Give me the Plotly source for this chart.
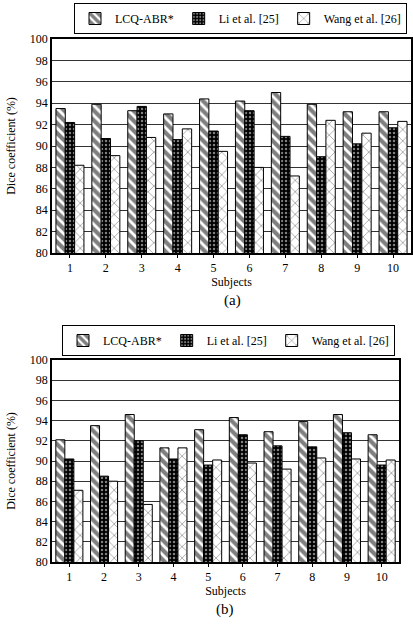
import plotly.graph_objects as go

subjects = ["1", "2", "3", "4", "5", "6", "7", "8", "9", "10"]
series_names = ["LCQ-ABR*", "Li et al. [25]", "Wang et al. [26]"]

# (a)
a_lcq = [93.5, 93.9, 93.3, 93.0, 94.4, 94.2, 95.0, 93.9, 93.2, 93.2]
a_li = [92.2, 90.7, 93.7, 90.6, 91.4, 93.3, 90.9, 89.0, 90.2, 91.7]
a_wang = [88.2, 89.1, 90.8, 91.6, 89.5, 88.0, 87.2, 92.4, 91.2, 92.3]

# (b)
b_lcq = [92.1, 93.5, 94.6, 91.3, 93.1, 94.3, 92.9, 93.9, 94.6, 92.6]
b_li = [90.2, 88.5, 92.0, 90.2, 89.6, 92.6, 91.5, 91.4, 92.8, 89.6]
b_wang = [87.1, 88.0, 85.7, 91.3, 90.1, 89.8, 89.2, 90.3, 90.2, 90.1]

W, H = 413, 627
FONT = "Liberation Serif"

styles = [
    dict(color="white", pattern=dict(shape="\\", fgcolor="black", bgcolor="white", size=7, solidity=0.6)),
    dict(color="black", pattern=dict(shape=".", fgcolor="white", bgcolor="black", size=4, solidity=0.3)),
    dict(color="white", pattern=dict(shape="x", fgcolor="black", bgcolor="white", size=8, solidity=0.15)),
]

fig = go.Figure()
for panel, data, xa, ya, leg in [
    ("a", [a_lcq, a_li, a_wang], "x", "y", "legend"),
    ("b", [b_lcq, b_li, b_wang], "x2", "y2", "legend2"),
]:
    for name, vals, st in zip(series_names, data, styles):
        fig.add_trace(go.Bar(
            x=subjects, y=vals, name=name, xaxis=xa, yaxis=ya, legend=leg,
            marker=dict(color=st["color"], pattern=st["pattern"],
                        line=dict(color="black", width=1)),
        ))

def px_x(p):
    return p / W

def px_y(p):
    return 1 - p / H

axis_font = dict(family=FONT, size=12, color="black")
yax = dict(range=[80, 100], dtick=2, showgrid=True, gridcolor="#333", gridwidth=1,
           showline=True, linecolor="black", linewidth=1.5, mirror=True,
           tickfont=axis_font, ticks="", zeroline=False,
           title=dict(text="Dice coefficient (%)", font=dict(family=FONT, size=12), standoff=12))
xax = dict(showline=True, linecolor="black", linewidth=1.5, mirror=True,
           tickfont=axis_font, ticks="outside", ticklen=3, tickcolor="black",
           title=dict(text="Subjects", font=dict(family=FONT, size=12), standoff=2))

fig.update_layout(
    width=W, height=H,
    margin=dict(l=0, r=0, t=0, b=0, autoexpand=False),
    paper_bgcolor="white", plot_bgcolor="white",
    barmode="group", bargap=0.22, bargroupgap=0,
    font=dict(family=FONT, color="black"),
    xaxis=dict(xax, domain=[px_x(52), px_x(411)], anchor="y"),
    yaxis=dict(yax, domain=[px_y(253), px_y(39)], anchor="x"),
    xaxis2=dict(xax, domain=[px_x(52), px_x(399)], anchor="y2"),
    yaxis2=dict(yax, domain=[px_y(562), px_y(360)], anchor="x2"),
    legend=dict(orientation="h", x=px_x(74), y=px_y(3), xanchor="left", yanchor="top",
                bordercolor="black", borderwidth=1, font=dict(family=FONT, size=12),
                itemwidth=30, tracegroupgap=0),
    legend2=dict(orientation="h", x=px_x(62), y=px_y(325), xanchor="left", yanchor="top",
                 bordercolor="black", borderwidth=1, font=dict(family=FONT, size=12),
                 itemwidth=30, tracegroupgap=0),
    annotations=[
        dict(text="(a)", x=px_x(232), y=px_y(300), xref="paper", yref="paper",
             showarrow=False, font=dict(family=FONT, size=15)),
        dict(text="(b)", x=px_x(225), y=px_y(620), xref="paper", yref="paper",
             showarrow=False, font=dict(family=FONT, size=15)),
    ],
)

fig.write_html("out.html")
